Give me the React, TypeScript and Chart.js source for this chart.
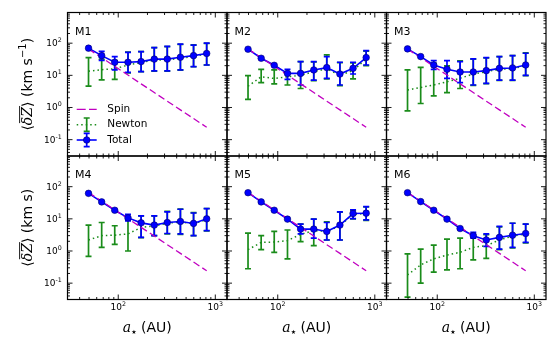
import React, { useEffect, useRef } from 'react';
import { Chart, registerables } from 'chart.js';

Chart.register(...registerables);

// ---------------- data ----------------
const semiMajorAxis = [49.4, 67.5, 92, 126, 172, 235, 320, 437, 597, 815];
const spinDeltaZ = [66, 35.4, 19.0, 10.2, 5.44, 2.92, 1.57, 0.843, 0.452, 0.243];

const m1Total = [70, 41, 25.5, 25.5, 26.7, 32, 32, 36.5, 41, 48];
const m1TotalLo = [70, 29, 14.7, 12.4, 13, 13.7, 13.7, 14.7, 18.7, 21];
const m1TotalHi = [70, 56, 38, 52, 55, 73, 79, 93, 87, 100];
const m1Newton = [13.5, 15, 16, 21, 25, 30, 30, 34, 39, 46];
const m1NewtonLo = [4.6, 7.2, 7.5, 12, 13, 13.5, 13.5, 14.5, 18.5, 21];
const m1NewtonHi = [35.7, 31.6, 28.7, 53, 55, 73, 78, 92, 88, 99];

const m2Total = [65, 34, 20.5, 11.5, 11.5, 14.7, 17.4, 11, 16.5, 35.7];
const m2TotalLo = [65, 34, 20.5, 7.5, 5, 7.1, 8.1, 5, 11, 21];
const m2TotalHi = [65, 34, 20.5, 15.4, 26.7, 26.7, 38.3, 25.5, 25.5, 59];
const m2Newton = [4.6, 9, 8, 9, 10, 13, 16, 10, 14, 33];
const m2NewtonLo = [1.8, 5.9, 5.4, 5, 3.9, 6.8, 7.8, 4.8, 7.8, 20];
const m2NewtonHi = [9.8, 15.4, 14.7, 12.1, 26.7, 26, 43, 25, 24.5, 57];

const m3Total = [66.5, 38.3, 21, 15.4, 12.7, 12.7, 14, 16.5, 17, 21];
const m3TotalLo = [66.5, 38.3, 15.4, 8.1, 5.9, 5, 5.6, 7.1, 7.1, 10];
const m3TotalHi = [66.5, 38.3, 28.7, 28.7, 26.7, 32.4, 35.7, 38.3, 41, 48.7];
const m3Newton = [3.5, 4.2, 5, 6.3, 8.1, 11, 13, 15.5, 16, 20];
const m3NewtonLo = [0.79, 1.33, 2.3, 2.9, 3.9, 4.9, 5.5, 7, 7, 9.8];
const m3NewtonHi = [14.7, 17.8, 23.7, 19.6, 28, 32, 35, 38, 41, 50];

const m4Total = [62, 33.6, 18.5, 10.7, 7.5, 6.4, 7.7, 8.3, 7.2, 10];
const m4TotalLo = [62, 33.6, 18.5, 8.7, 2.65, 3, 3.5, 3.4, 3, 4.3];
const m4TotalHi = [62, 33.6, 18.5, 13.9, 12.4, 12.4, 16.4, 19.9, 15.2, 20.9];
const m4Newton = [2.2, 3, 3.1, 3.4, 5.4, 6, 7.3, 8, 7, 9.5];
const m4NewtonLo = [0.68, 1.3, 1.6, 1.0, 2.6, 3, 3.4, 3.3, 3, 4.2];
const m4NewtonHi = [6.4, 7.7, 6.1, 10.2, 12.3, 12.3, 17, 20, 15.5, 21];

const m5Total = [65, 33.6, 18.5, 9.8, 4.8, 4.8, 4.05, 6.4, 14.6, 15];
const m5TotalLo = [65, 33.6, 18.5, 9.8, 3.4, 2.5, 2.2, 2.2, 10.2, 9.3];
const m5TotalHi = [65, 33.6, 18.5, 9.8, 6.8, 9.8, 7.7, 16.4, 19, 24];
const m5Newton = [1.1, 1.85, 1.9, 2.1, 3.3, 4.3, 4.1, 6, 14, 14.5];
const m5NewtonLo = [0.28, 1.1, 0.91, 0.57, 1.95, 1.46, 2.2, 2.2, 10, 9];
const m5NewtonHi = [3.6, 3, 4.05, 4.5, 6.9, 9.8, 8, 16, 18.5, 23.5];

const m6Total = [65, 34.4, 18.5, 9.8, 5.0, 3.0, 2.2, 2.65, 3.1, 3.5];
const m6TotalLo = [65, 34.4, 18.5, 9.8, 5.0, 2.5, 1.4, 1.15, 1.3, 1.85];
const m6TotalHi = [65, 34.4, 18.5, 9.8, 5.0, 3.8, 3.4, 5.8, 7.3, 6.8];
const m6Newton = [0.18, 0.37, 0.57, 0.75, 0.91, 1.3, 1.46, 2.2, 2.9, 3.4];
const m6NewtonLo = [0.037, 0.1, 0.22, 0.26, 0.28, 0.53, 0.59, 1.1, 1.25, 1.8];
const m6NewtonHi = [0.81, 1.15, 1.53, 2.35, 2.5, 3.1, 3.2, 5.6, 7.3, 6.8];

const panelNames = ['M1', 'M2', 'M3', 'M4', 'M5', 'M6'];
const legendLabels = ['Spin', 'Newton', 'Total'];
const xRange = [30, 1320];
const yRange = [0.031, 900];
const xMajorTicks = [100, 1000];
const xMajorExponents = ['2', '3'];
const yMajorTicks = [100, 10, 1, 0.1];
const yMajorExponents = ['2', '1', '0', '-1'];

const panels = [
  { name: panelNames[0], total: m1Total, totalLo: m1TotalLo, totalHi: m1TotalHi, newton: m1Newton, newtonLo: m1NewtonLo, newtonHi: m1NewtonHi },
  { name: panelNames[1], total: m2Total, totalLo: m2TotalLo, totalHi: m2TotalHi, newton: m2Newton, newtonLo: m2NewtonLo, newtonHi: m2NewtonHi },
  { name: panelNames[2], total: m3Total, totalLo: m3TotalLo, totalHi: m3TotalHi, newton: m3Newton, newtonLo: m3NewtonLo, newtonHi: m3NewtonHi },
  { name: panelNames[3], total: m4Total, totalLo: m4TotalLo, totalHi: m4TotalHi, newton: m4Newton, newtonLo: m4NewtonLo, newtonHi: m4NewtonHi },
  { name: panelNames[4], total: m5Total, totalLo: m5TotalLo, totalHi: m5TotalHi, newton: m5Newton, newtonLo: m5NewtonLo, newtonHi: m5NewtonHi },
  { name: panelNames[5], total: m6Total, totalLo: m6TotalLo, totalHi: m6TotalHi, newton: m6Newton, newtonLo: m6NewtonLo, newtonHi: m6NewtonHi },
];

// ---------------- layout & style ----------------
const W = 560;
const H = 350;
const COL_LEFT = [67.5, 227, 386.5];
const ROW_TOP = [12.5, 156];
const PANEL_W = 159.5;
const PANEL_H = 143.5;

const BLUE = '#0000ff';
const GREEN = '#1a8c1a';
const MAGENTA = '#c000c0';
const SANS = '"DejaVu Sans", sans-serif';
const SERIF = '"DejaVu Serif", serif';

type Piece = { text: string; font: string; dy?: number; overline?: boolean };

function piecesWidth(ctx: CanvasRenderingContext2D, pieces: Piece[]) {
  let w = 0;
  for (const p of pieces) {
    ctx.font = p.font;
    w += ctx.measureText(p.text).width;
  }
  return w;
}

function drawPieces(ctx: CanvasRenderingContext2D, pieces: Piece[], x: number, y: number) {
  let cx = x;
  ctx.textAlign = 'left';
  ctx.textBaseline = 'alphabetic';
  for (const p of pieces) {
    ctx.font = p.font;
    const w = ctx.measureText(p.text).width;
    ctx.fillText(p.text, cx, y + (p.dy || 0));
    if (p.overline) {
      ctx.save();
      ctx.lineWidth = 0.9;
      ctx.beginPath();
      ctx.moveTo(cx + 2, y - 12);
      ctx.lineTo(cx + w + 1, y - 12);
      ctx.stroke();
      ctx.restore();
    }
    cx += w;
  }
}

function powerLabel(exp: string): Piece[] {
  return [
    { text: '10', font: `9px ${SANS}` },
    { text: exp, font: `6.3px ${SANS}`, dy: -4 },
  ];
}

function errorBar(ctx: CanvasRenderingContext2D, px: number, yl: number, yh: number) {
  ctx.beginPath();
  ctx.moveTo(px, yl);
  ctx.lineTo(px, yh);
  ctx.moveTo(px - 3, yl);
  ctx.lineTo(px + 3, yl);
  ctx.moveTo(px - 3, yh);
  ctx.lineTo(px + 3, yh);
  ctx.stroke();
}

function makePlugin(index: number) {
  const row = Math.floor(index / 3);
  const col = index % 3;
  return {
    id: 'panelDecor' + index,
    beforeDatasetDraw(chart: any, args: any) {
      const ds = chart.data.datasets[args.index];
      if (!ds.errLo) return;
      const { ctx, chartArea: a } = chart;
      const xs = chart.scales.x;
      const ys = chart.scales.y;
      ctx.save();
      ctx.beginPath();
      ctx.rect(a.left, a.top, a.right - a.left, a.bottom - a.top);
      ctx.clip();
      ctx.strokeStyle = ds.borderColor;
      ctx.lineWidth = 1.7;
      ctx.setLineDash([]);
      ds.data.forEach((pt: any, i: number) => {
        const lo = ds.errLo[i];
        const hi = ds.errHi[i];
        if (hi / lo < 1.04) return;
        errorBar(ctx, xs.getPixelForValue(pt.x), ys.getPixelForValue(lo), ys.getPixelForValue(hi));
      });
      ctx.restore();
    },
    afterDraw(chart: any) {
      const { ctx, chartArea: a } = chart;
      const xs = chart.scales.x;
      const ys = chart.scales.y;
      ctx.save();
      ctx.setLineDash([]);
      ctx.strokeStyle = '#000';
      ctx.fillStyle = '#000';

      // ticks (inside, all four sides)
      ctx.lineWidth = 0.9;
      const xTick = (v: number, len: number) => {
        const px = xs.getPixelForValue(v);
        ctx.beginPath();
        ctx.moveTo(px, a.bottom);
        ctx.lineTo(px, a.bottom - len);
        ctx.moveTo(px, a.top);
        ctx.lineTo(px, a.top + len);
        ctx.stroke();
      };
      const yTick = (v: number, len: number) => {
        const py = ys.getPixelForValue(v);
        ctx.beginPath();
        ctx.moveTo(a.left, py);
        ctx.lineTo(a.left + len, py);
        ctx.moveTo(a.right, py);
        ctx.lineTo(a.right - len, py);
        ctx.stroke();
      };
      for (let e = 1; e <= 3; e++) {
        const d = Math.pow(10, e);
        for (let k = 2; k <= 9; k++) {
          const v = k * d;
          if (v > xRange[0] * 1.01 && v < xRange[1] * 0.99) xTick(v, 2.5);
        }
      }
      xMajorTicks.forEach((v) => xTick(v, 5));
      for (let e = -2; e <= 2; e++) {
        const d = Math.pow(10, e);
        for (let k = 2; k <= 9; k++) {
          const v = k * d;
          if (v > yRange[0] * 1.01 && v < yRange[1] * 0.99) yTick(v, 2.5);
        }
      }
      yMajorTicks.forEach((v) => yTick(v, 5));

      // frame
      ctx.lineWidth = 1.2;
      ctx.strokeRect(a.left, a.top, a.right - a.left, a.bottom - a.top);

      // panel label
      ctx.font = `11px ${SANS}`;
      ctx.textAlign = 'left';
      ctx.textBaseline = 'alphabetic';
      ctx.fillText(panels[index].name, a.left + 7.5, a.top + 22);

      // y tick labels
      if (col === 0) {
        yMajorTicks.forEach((v, i) => {
          const pcs = powerLabel(yMajorExponents[i]);
          const w = piecesWidth(ctx, pcs);
          const py = ys.getPixelForValue(v);
          drawPieces(ctx, pcs, a.left - 5.8 - w, py + 3);
        });
        // y title
        const title: Piece[] = [
          { text: '⟨', font: `14px ${SANS}` },
          { text: 'δZ', font: `italic 14px ${SERIF}`, overline: true },
          { text: '⟩', font: `14px ${SANS}` },
          { text: ' (km s', font: `14px ${SANS}` },
        ];
        if (row === 0) title.push({ text: '−1', font: `10px ${SANS}`, dy: -5.5 });
        title.push({ text: ')', font: `14px ${SANS}` });
        const tw = piecesWidth(ctx, title);
        ctx.save();
        ctx.translate(26.8, (a.top + a.bottom) / 2);
        ctx.rotate(-Math.PI / 2);
        drawPieces(ctx, title, -tw / 2, 4.8);
        ctx.restore();
      }

      // x tick labels and title
      if (row === 1) {
        xMajorTicks.forEach((v, i) => {
          const pcs = powerLabel(xMajorExponents[i]);
          const w = piecesWidth(ctx, pcs);
          const px = xs.getPixelForValue(v);
          drawPieces(ctx, pcs, px - w / 2, a.bottom + 10.6);
        });
        const xt: Piece[] = [
          { text: 'a', font: `italic 14px ${SERIF}` },
          { text: '★', font: `6px ${SANS}`, dy: 2.5 },
          { text: ' (AU)', font: `14px ${SANS}` },
        ];
        const tw = piecesWidth(ctx, xt);
        drawPieces(ctx, xt, (a.left + a.right) / 2 - tw / 2, 331.5);
      }

      // legend
      if (index === 0) {
        const lx0 = a.left + 9.2;
        const lx1 = a.left + 29.2;
        const lxm = (lx0 + lx1) / 2;
        const tx = a.left + 39.8;
        const ly = [a.top + 96.8, a.top + 112.2, a.top + 127.5];
        // Spin
        ctx.strokeStyle = MAGENTA;
        ctx.lineWidth = 1.3;
        ctx.setLineDash([9, 3.3]);
        ctx.beginPath();
        ctx.moveTo(lx0, ly[0]);
        ctx.lineTo(lx1, ly[0]);
        ctx.stroke();
        // Newton
        ctx.strokeStyle = GREEN;
        ctx.lineWidth = 1.5;
        ctx.setLineDash([1.5, 3]);
        ctx.beginPath();
        ctx.moveTo(lx0, ly[1]);
        ctx.lineTo(lx1, ly[1]);
        ctx.stroke();
        ctx.setLineDash([]);
        ctx.lineWidth = 1.7;
        errorBar(ctx, lxm, ly[1] + 6.7, ly[1] - 6.7);
        // Total
        ctx.strokeStyle = BLUE;
        ctx.lineWidth = 1.6;
        ctx.beginPath();
        ctx.moveTo(lx0, ly[2]);
        ctx.lineTo(lx1, ly[2]);
        ctx.stroke();
        ctx.lineWidth = 1.7;
        errorBar(ctx, lxm, ly[2] + 6.7, ly[2] - 6.7);
        ctx.beginPath();
        ctx.arc(lxm, ly[2], 3.3, 0, Math.PI * 2);
        ctx.fillStyle = BLUE;
        ctx.fill();
        ctx.lineWidth = 0.6;
        ctx.strokeStyle = '#00006a';
        ctx.stroke();
        // labels
        ctx.fillStyle = '#000';
        ctx.font = `10.5px ${SANS}`;
        ctx.textAlign = 'left';
        ctx.textBaseline = 'middle';
        legendLabels.forEach((t, i) => ctx.fillText(t, tx, ly[i]));
      }
      ctx.restore();
    },
  };
}

function buildConfig(index: number): any {
  const p = panels[index];
  const row = Math.floor(index / 3);
  const col = index % 3;
  const left = COL_LEFT[col];
  const top = ROW_TOP[row];
  const pts = (arr: number[]) => arr.map((y, i) => ({ x: semiMajorAxis[i], y }));
  return {
    type: 'line',
    data: {
      datasets: [
        {
          label: 'Total markers',
          data: pts(p.total),
          showLine: false,
          pointRadius: 3.3,
          pointBackgroundColor: BLUE,
          pointBorderColor: '#00006a',
          pointBorderWidth: 0.6,
          borderColor: BLUE,
          order: 1,
        },
        {
          label: 'Spin',
          data: pts(spinDeltaZ),
          borderColor: MAGENTA,
          borderWidth: 1.3,
          borderDash: [7, 3.5],
          pointRadius: 0,
          fill: false,
          order: 2,
        },
        {
          label: 'Total',
          data: pts(p.total),
          borderColor: BLUE,
          borderWidth: 1.6,
          pointRadius: 0,
          fill: false,
          order: 3,
          errLo: p.totalLo,
          errHi: p.totalHi,
        },
        {
          label: 'Newton',
          data: pts(p.newton),
          borderColor: GREEN,
          borderWidth: 1.5,
          borderDash: [1.5, 3],
          pointRadius: 0,
          fill: false,
          order: 4,
          errLo: p.newtonLo,
          errHi: p.newtonHi,
        },
      ],
    },
    options: {
      animation: false,
      responsive: false,
      devicePixelRatio: 1,
      events: [],
      layout: {
        padding: { left, top, right: W - (left + PANEL_W), bottom: H - (top + PANEL_H) },
      },
      plugins: { legend: { display: false }, tooltip: { enabled: false }, title: { display: false } },
      scales: {
        x: { type: 'logarithmic', min: xRange[0], max: xRange[1], display: false },
        y: { type: 'logarithmic', min: yRange[0], max: yRange[1], display: false },
      },
    },
    plugins: [makePlugin(index)],
  };
}

function Panel({ index }: { index: number }) {
  const ref = useRef<HTMLCanvasElement>(null);
  useEffect(() => {
    if (!ref.current) return;
    const chart = new Chart(ref.current, buildConfig(index));
    return () => chart.destroy();
  }, [index]);
  return (
    <canvas
      ref={ref}
      width={W}
      height={H}
      style={{ position: 'absolute', left: 0, top: 0, width: W, height: H }}
    />
  );
}

export default function App() {
  return (
    <div style={{ position: 'fixed', left: 0, top: 0, width: W, height: H, background: '#fff', overflow: 'hidden' }}>
      {panels.map((_, i) => (
        <Panel key={i} index={i} />
      ))}
    </div>
  );
}
